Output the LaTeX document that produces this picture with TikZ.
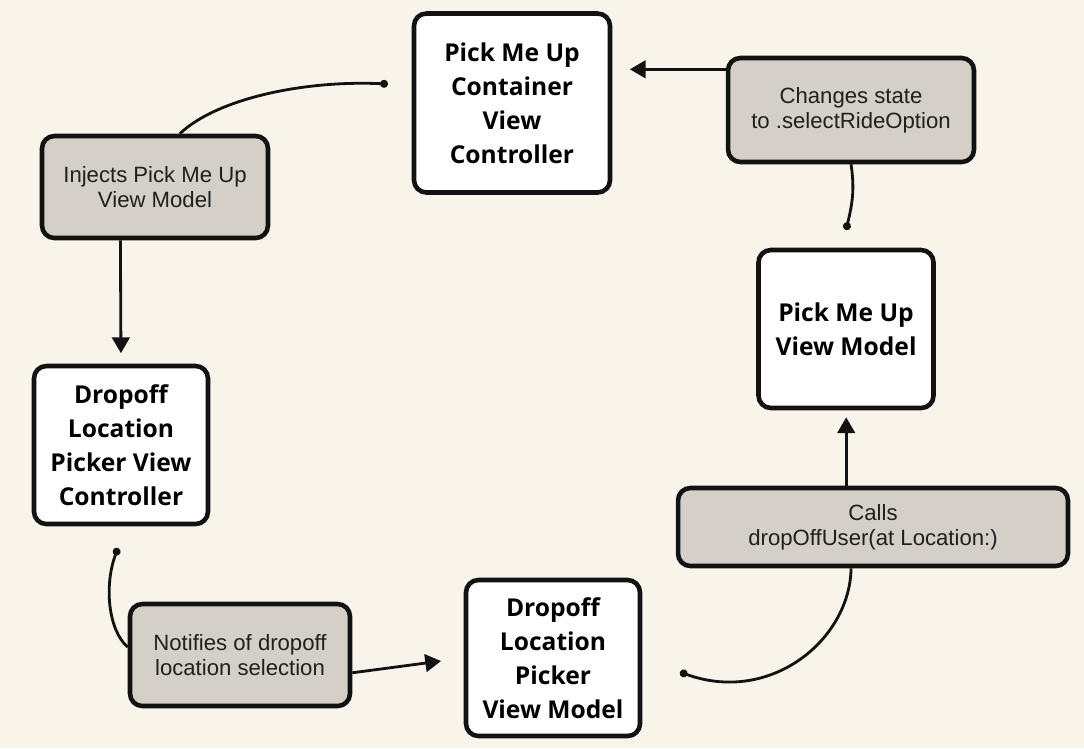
\documentclass[tikz,border=0pt]{standalone}
\usepackage{fontspec}
\usepackage{xcolor}
\usetikzlibrary{positioning, arrows.meta, calc}
\newfontfamily\boxfont{Open Sans}
\newfontfamily\notefont{Liberation Sans}
\definecolor{paper}{RGB}{248, 244, 234}
\definecolor{notegray}{RGB}{212, 208, 200}
\definecolor{inkblack}{RGB}{18, 18, 18}
\tikzset{
    basebox/.style={draw=inkblack, line width=2.6pt, rounded corners=7pt, align=center, inner sep=0pt},
    objbox/.style={basebox, fill=white, font=\boxfont\bfseries\fontsize{14}{19.3}\selectfont},
    notebox/.style={basebox, fill=notegray, text=black!88, font=\notefont\fontsize{12.6}{14.2}\selectfont},
    link/.style={draw=inkblack, line width=1.6pt, arrows={Circle[length=4.5pt]-}},
    flow/.style={draw=inkblack, line width=1.6pt, arrows={-Triangle[length=9pt,width=10pt]}}
}

\begin{document}
\begin{tikzpicture}[x=0.02cm, y=-0.02cm]
    \fill[paper] (0,0) rectangle (1084,748);
    \useasboundingbox (0,0) rectangle (1084,748);
    % view controllers and view models
    \node[objbox, minimum width=3.92cm, minimum height=3.58cm] (cvc) at (512,103) {Pick Me Up\\Container\\View\\Controller};
    \node[objbox, minimum width=3.5cm, minimum height=3.16cm] (pvm) at (846,329) {Pick Me Up\\View Model};
    \node[objbox, minimum width=3.48cm, minimum height=3.16cm] (dvc) at (121,445) {Dropoff\\Location\\Picker View\\Controller};
    \node[objbox, minimum width=3.48cm, minimum height=3.12cm] (dvm) at (553,658) {Dropoff\\Location\\Picker\\View Model};
    % notes
    \node[notebox, minimum width=4.52cm, minimum height=2.04cm] (inject) at (155,187) {Injects Pick Me Up\\View Model};
    \node[notebox, minimum width=4.92cm, minimum height=2.08cm] (changes) at (851,110) {Changes state\\to .selectRideOption};
    \node[notebox, minimum width=4.4cm, minimum height=2.04cm] (notify) at (240,655) {Notifies of dropoff\\location selection};
    \node[notebox, minimum width=7.8cm, minimum height=1.56cm] (calls) at (873,527) {Calls\\dropOffUser(at Location:)};
    % loose ends
    \coordinate (cvcout) at (388,84);
    \coordinate (dvcout) at (118,548);
    \coordinate (dvmout) at (680,672);
    \coordinate (pvmout) at (846,230);
    % connectors
    \draw[link] (cvcout) .. controls (300,80) and (215,100) .. (inject.65);
    \draw[flow, shorten >=6pt] (inject.237) -- (dvc.north);
    \draw[link] (dvcout) .. controls (104,585) and (108,630) .. (notify.176);
    \draw[flow, shorten >=13pt] (notify.-9) -- (dvm.west);
    \draw[link] (dvmout) .. controls (770,705) and (850,640) .. (calls.242);
    \draw[flow, shorten >=4pt] (calls.123) -- (calls.123 |- pvm.south);
    \draw[link] (pvmout) .. controls (852,205) and (855,190) .. (changes.south);
    \draw[flow, shorten >=10pt] (changes.162) -- (changes.162 -| cvc.east);
\end{tikzpicture}
\end{document}
